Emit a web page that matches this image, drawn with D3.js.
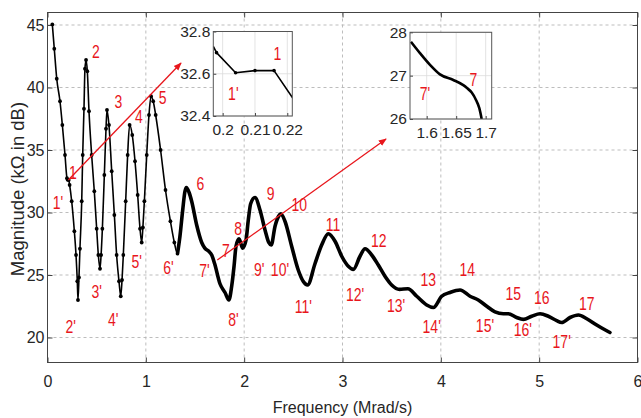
<!DOCTYPE html>
<html>
<head>
<meta charset="utf-8">
<script src="https://cdn.jsdelivr.net/npm/d3@7"></script>
<style>
  body { margin: 0; background: #fff; }
  svg { display: block; font-family: "Liberation Sans", Arial, sans-serif; }
  .tick text { fill: #262626; }
</style>
</head>
<body>
<div id="chart"></div>
<script>
// main curve (Mrad/s, dB)
const freq = [0.049, 0.069, 0.094, 0.127, 0.151, 0.178, 0.198, 0.205, 0.216, 0.225, 0.246, 0.273, 0.290, 0.303, 0.310, 0.320,
  0.330, 0.348, 0.358, 0.371, 0.381, 0.392, 0.405, 0.422, 0.449, 0.476, 0.500, 0.517, 0.534, 0.545, 0.558, 0.578,
  0.595, 0.605, 0.625, 0.653, 0.680, 0.703, 0.727, 0.745, 0.758, 0.771, 0.795, 0.815, 0.835, 0.862, 0.890, 0.917,
  0.941, 0.958, 0.970, 0.985, 1.009, 1.032, 1.053, 1.075, 1.100, 1.150, 1.200, 1.250, 1.290, 1.322, 1.347, 1.375,
  1.398, 1.412, 1.440, 1.466, 1.517, 1.568, 1.600, 1.640, 1.670, 1.700, 1.754, 1.805, 1.845, 1.873, 1.897, 1.917,
  1.948, 1.985, 2.019, 2.042, 2.066, 2.110, 2.161, 2.212, 2.250, 2.275, 2.314, 2.350, 2.373, 2.415, 2.483, 2.550,
  2.600, 2.645, 2.720, 2.788, 2.856, 2.924, 2.992, 3.059, 3.110, 3.178, 3.229, 3.297, 3.364, 3.432, 3.500, 3.580,
  3.665, 3.755, 3.856, 3.924, 4.009, 4.093, 4.195, 4.297, 4.381, 4.467, 4.551, 4.636, 4.686, 4.771, 4.839, 4.924,
  5.009, 5.093, 5.178, 5.229, 5.314, 5.399, 5.484, 5.585, 5.720];
const mag = [45.05, 43.1, 40.7, 38.9, 37.0, 34.6, 32.75, 32.62, 32.6, 32.2, 30.9, 28.5, 26.6, 24.5, 23.0, 24.8,
  27.1, 30.9, 34.6, 38.3, 41.5, 42.2, 41.3, 38.1, 34.6, 31.7, 28.7, 26.6, 25.5, 26.6, 28.7, 33.0,
  36.7, 38.2, 37.0, 33.3, 29.8, 26.6, 24.5, 23.3, 24.6, 26.6, 30.9, 34.6, 37.0, 36.2, 34.1, 31.4,
  28.7, 27.6, 28.8, 30.9, 34.6, 37.8, 39.3, 38.9, 37.8, 35.0, 31.8, 29.3, 27.6, 26.7, 28.1, 30.2,
  31.7, 32.0, 31.6, 30.9, 29.0, 27.6, 27.15, 26.9, 26.6, 25.9, 24.3, 23.6, 23.0, 24.1, 25.7, 27.3,
  27.9, 27.15, 27.8, 29.4, 30.7, 31.2, 30.2, 28.6, 27.6, 27.4, 28.9, 29.7, 29.9, 29.3, 27.3, 25.4,
  24.5, 24.2, 25.9, 27.4, 28.3, 27.7, 26.5, 25.7, 25.45, 26.5, 27.1, 26.6, 25.8, 24.9, 24.2, 23.85,
  23.9, 23.3, 22.6, 22.4, 23.3, 23.6, 23.8, 23.3, 23.0, 22.5, 22.05, 21.9, 21.9, 21.6, 21.45, 21.7,
  21.9, 21.7, 21.35, 21.2, 21.6, 21.8, 21.5, 21.0, 20.4];

const xTicks = [0, 1, 2, 3, 4, 5, 6];
const yTicks = [20, 25, 30, 35, 40, 45];

// resonance / anti-resonance labels
const labelText = ["1", "1'", "2", "2'", "3", "3'", "4", "4'", "5", "5'", "6", "6'", "7", "7'", "8", "8'", "9", "9'",
  "10", "10'", "11", "11'", "12", "12'", "13", "13'", "14", "14'", "15", "15'", "16", "16'", "17", "17'"];
const labelFreq = [0.259, 0.107, 0.493, 0.236, 0.720, 0.500, 0.930, 0.669, 1.170, 0.907, 1.556, 1.229, 1.815, 1.597,
  1.940, 1.890, 2.270, 2.154, 2.561, 2.364, 2.903, 2.601, 3.369, 3.127, 3.873, 3.544, 4.269, 3.907, 4.737, 4.449,
  5.026, 4.833, 5.484, 5.229];
const labelMag = [33.16, 30.76, 42.84, 20.86, 38.84, 23.66, 37.64, 21.4, 39.2, 26.06, 32.32, 25.62, 26.96, 25.32,
  28.74, 21.46, 31.54, 25.46, 30.6, 25.4, 29.0, 22.46, 27.72, 23.4, 24.6, 22.52, 25.4, 20.86, 23.48, 20.92,
  23.22, 20.66, 22.74, 19.66];

// arrows pointing to the zoomed views: [f0, m0, f1, m1]
const arrows = [[0.212, 32.6, 1.358, 41.96], [1.727, 26.2, 3.443, 35.88]];

// inset 1 (around 1 / 1')
const in1Freq = [0.1971, 0.1981, 0.2040, 0.2100, 0.2159, 0.2219];
const in1Mag = [32.73, 32.70, 32.605, 32.615, 32.615, 32.48];
const in1XTicks = [0.2, 0.21, 0.22];
const in1YTicks = [32.4, 32.6, 32.8];
const in1Labels = ["1", "1'"];
const in1LabelFreq = [0.2169, 0.2033];
const in1LabelMag = [32.697, 32.507];

// inset 2 (around 7 / 7')
const in2Freq = [1.5734, 1.5886, 1.6056, 1.6225, 1.6451, 1.6620, 1.6678, 1.6763, 1.6836, 1.6892, 1.6932];
const in2Mag = [27.78, 27.52, 27.25, 27.03, 26.90, 26.78, 26.72, 26.61, 26.44, 26.25, 26.0];
const in2XTicks = [1.6, 1.65, 1.7];
const in2YTicks = [26, 27, 28];
const in2Labels = ["7", "7'"];
const in2LabelFreq = [1.679, 1.597];
const in2LabelMag = [26.9, 26.59];

const width = 641, height = 418;
const red = '#e8161c';

const svg = d3.select('#chart').append('svg')
  .attr('width', width)
  .attr('height', height);

const x = d3.scaleLinear().domain([0, 6]).range([47.5, 637.5]);
const y = d3.scaleLinear().domain([18, 46]).range([362.5, 12.5]);

// grid
const grid = svg.append('g').attr('stroke', '#b5b5b5').attr('stroke-dasharray', '3,3').attr('stroke-width', 0.9);
grid.selectAll('.gx').data(xTicks.slice(1, -1)).enter().append('line')
  .attr('x1', d => x(d)).attr('x2', d => x(d))
  .attr('y1', y.range()[1]).attr('y2', y.range()[0]);
grid.selectAll('.gy').data(yTicks).enter().append('line')
  .attr('y1', d => y(d)).attr('y2', d => y(d))
  .attr('x1', x.range()[0]).attr('x2', x.range()[1]);

// axes
function styleAxis(g) {
  g.select('.domain').remove();
  g.selectAll('.tick line').attr('stroke', '#444');
  g.selectAll('.tick text').attr('font-size', 16).attr('font-family', '"Liberation Sans", Arial, sans-serif');
}
svg.append('g').attr('transform', `translate(0,${y.range()[0]})`)
  .call(d3.axisBottom(x).tickValues(xTicks).tickSize(-5).tickPadding(13).tickFormat(d3.format('d')))
  .call(styleAxis);
svg.append('g').attr('transform', `translate(0,${y.range()[1]})`)
  .call(d3.axisTop(x).tickValues(xTicks).tickSize(-5).tickFormat(''))
  .call(styleAxis);
svg.append('g').attr('transform', `translate(${x.range()[0]},0)`)
  .call(d3.axisLeft(y).tickValues(yTicks).tickSize(-5).tickPadding(3))
  .call(styleAxis);
svg.append('g').attr('transform', `translate(${x.range()[1]},0)`)
  .call(d3.axisRight(y).tickValues(yTicks).tickSize(-5).tickFormat(''))
  .call(styleAxis);

svg.append('rect')
  .attr('x', x.range()[0]).attr('y', y.range()[1])
  .attr('width', x.range()[1] - x.range()[0]).attr('height', y.range()[0] - y.range()[1])
  .attr('fill', 'none').attr('stroke', '#444').attr('stroke-width', 1);

// axis titles
svg.append('text')
  .attr('x', 342.5).attr('y', 413)
  .attr('text-anchor', 'middle').attr('font-size', 16).attr('fill', '#262626')
  .text('Frequency (Mrad/s)');
svg.append('text')
  .attr('transform', 'translate(24,189) rotate(-90)')
  .attr('text-anchor', 'middle').attr('font-size', 18.5).attr('fill', '#262626')
  .text('Magnitude (kΩ in dB)');

// curve
const pts = freq.map((f, i) => [f, mag[i]]);
const line = d3.line().x(d => x(d[0])).y(d => y(d[1])).curve(d3.curveMonotoneX);
svg.append('path').datum(pts)
  .attr('d', line).attr('fill', 'none').attr('stroke', '#000').attr('stroke-width', 1.6)
  .attr('stroke-linejoin', 'round');
svg.append('path').datum(pts.filter(d => d[0] >= 1.3))
  .attr('d', line).attr('fill', 'none').attr('stroke', '#000').attr('stroke-width', 3.6)
  .attr('stroke-linejoin', 'round').attr('stroke-linecap', 'round');
svg.append('g').selectAll('circle').data(pts.filter(d => d[0] < 1.32)).enter().append('circle')
  .attr('cx', d => x(d[0])).attr('cy', d => y(d[1])).attr('r', 1.9).attr('fill', '#000');

// arrows
svg.append('defs').append('marker')
  .attr('id', 'head').attr('viewBox', '0 0 10 10').attr('refX', 9).attr('refY', 5)
  .attr('markerWidth', 8).attr('markerHeight', 8).attr('orient', 'auto')
  .attr('markerUnits', 'userSpaceOnUse')
  .append('path').attr('d', 'M0,1 L10,5 L0,9 Z').attr('fill', red);
svg.append('g').selectAll('line').data(arrows).enter().append('line')
  .attr('x1', d => x(d[0])).attr('y1', d => y(d[1]))
  .attr('x2', d => x(d[2])).attr('y2', d => y(d[3]))
  .attr('stroke', red).attr('stroke-width', 1.3).attr('marker-end', 'url(#head)');

// red labels (narrow face)
function redLabels(g, texts, xs, ys, size) {
  g.selectAll('text.lab').data(texts).enter().append('text')
    .attr('class', 'lab')
    .attr('transform', (d, i) => `translate(${xs(i)},${ys(i)}) scale(0.8,1)`)
    .attr('text-anchor', 'middle').attr('dy', '0.36em')
    .attr('font-size', size).attr('fill', red)
    .text(d => d);
}
redLabels(svg.append('g'), labelText, i => x(labelFreq[i]), i => y(labelMag[i]), 17.5);

// insets
function inset(box, xDom, yDom, xT, yT, fs, ms, labs, lf, lm, opts) {
  const ix = d3.scaleLinear().domain(xDom).range([box.x0, box.x1]);
  const iy = d3.scaleLinear().domain(yDom).range([box.y1, box.y0]);
  const g = svg.append('g');
  const clipId = 'clip' + Math.round(box.x0);
  g.append('clipPath').attr('id', clipId).append('rect')
    .attr('x', box.x0).attr('y', box.y0).attr('width', box.x1 - box.x0).attr('height', box.y1 - box.y0);
  g.append('rect').attr('x', box.x0).attr('y', box.y0)
    .attr('width', box.x1 - box.x0).attr('height', box.y1 - box.y0).attr('fill', '#fff');
  g.selectAll('.vg').data(xT).enter().append('line')
    .attr('x1', d => ix(d)).attr('x2', d => ix(d)).attr('y1', box.y0).attr('y2', box.y1)
    .attr('stroke', '#dcdcdc').attr('stroke-width', 0.8);
  g.selectAll('.hg').data(yT).enter().append('line')
    .attr('y1', d => iy(d)).attr('y2', d => iy(d)).attr('x1', box.x0).attr('x2', box.x1)
    .attr('stroke', '#dcdcdc').attr('stroke-width', 0.8);
  const ipts = fs.map((f, i) => [f, ms[i]]);
  const il = d3.line().x(d => ix(d[0])).y(d => iy(d[1])).curve(opts.curve);
  const cg = g.append('g').attr('clip-path', `url(#${clipId})`);
  cg.append('path').datum(ipts).attr('d', il).attr('fill', 'none')
    .attr('stroke', '#000').attr('stroke-width', opts.lw).attr('stroke-linejoin', 'round');
  if (opts.markers) {
    cg.selectAll('circle').data(ipts.slice(1, -1)).enter().append('circle')
      .attr('cx', d => ix(d[0])).attr('cy', d => iy(d[1])).attr('r', 1.8).attr('fill', '#000');
  }
  g.append('g').attr('transform', `translate(0,${box.y1})`)
    .call(d3.axisBottom(ix).tickValues(xT).tickSize(-3).tickPadding(8).tickFormat(d => String(d)))
    .call(styleAxis).selectAll('.tick text').attr('font-size', 15.5);
  g.append('g').attr('transform', `translate(${box.x0},0)`)
    .call(d3.axisLeft(iy).tickValues(yT).tickSize(-3).tickPadding(3).tickFormat(d => String(d)))
    .call(styleAxis).selectAll('.tick text').attr('font-size', 15.5);
  g.append('rect').attr('x', box.x0).attr('y', box.y0)
    .attr('width', box.x1 - box.x0).attr('height', box.y1 - box.y0)
    .attr('fill', 'none').attr('stroke', '#555').attr('stroke-width', 1);
  redLabels(g, labs, i => ix(lf[i]), i => iy(lm[i]), 17.5);
}

inset({x0: 213.3, x1: 292.3, y0: 31.5, y1: 116}, [0.1971, 0.22155], [32.4, 32.8],
  in1XTicks, in1YTicks, in1Freq, in1Mag, in1Labels, in1LabelFreq, in1LabelMag,
  {curve: d3.curveLinear, lw: 1.6, markers: true});
inset({x0: 410, x1: 491.7, y0: 32.3, y1: 119}, [1.5717, 1.7102], [26, 28],
  in2XTicks, in2YTicks, in2Freq, in2Mag, in2Labels, in2LabelFreq, in2LabelMag,
  {curve: d3.curveMonotoneX, lw: 2.6, markers: false});
</script>
</body>
</html>
